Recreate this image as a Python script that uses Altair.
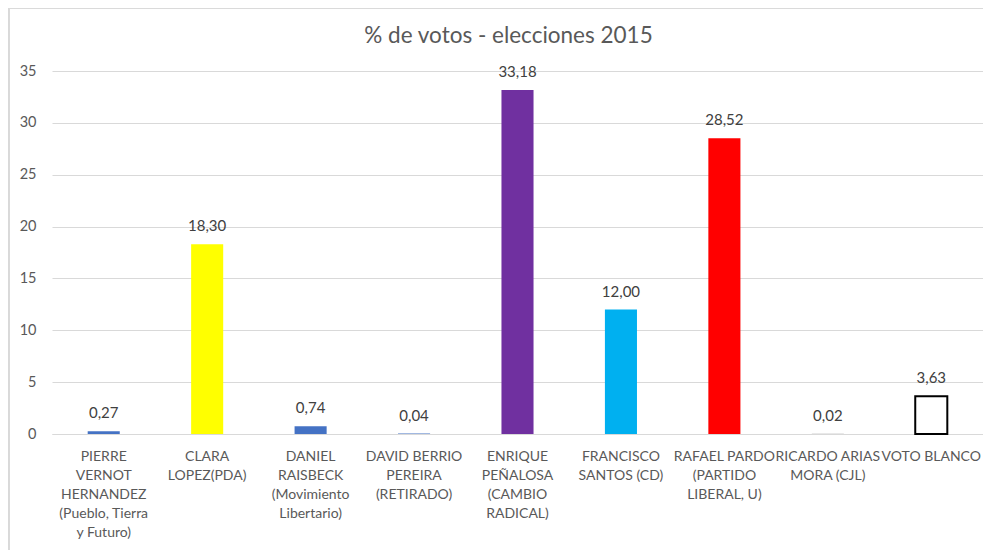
import altair as alt
import pandas as pd

titulo = "% de votos - elecciones 2015"
candidatos = [
    "PIERRE|VERNOT|HERNANDEZ|(Pueblo, Tierra|y Futuro)",
    "CLARA|LOPEZ(PDA)",
    "DANIEL|RAISBECK|(Movimiento|Libertario)",
    "DAVID BERRIO|PEREIRA|(RETIRADO)",
    "ENRIQUE|PEÑALOSA|(CAMBIO|RADICAL)",
    "FRANCISCO|SANTOS (CD)",
    "RAFAEL PARDO|(PARTIDO|LIBERAL, U)",
    "RICARDO ARIAS|MORA (CJL)",
    "VOTO BLANCO",
]
votos = [0.27, 18.30, 0.74, 0.04, 33.18, 12.00, 28.52, 0.02, 3.63]
relleno = ["#4472C4", "#FFFF00", "#4472C4", "#4472C4", "#7030A0",
           "#00B0F0", "#FF0000", "#A5A5A5", "#FFFFFF"]
borde = ["#4472C4", "#FFFF00", "#4472C4", "#4472C4", "#7030A0",
         "#00B0F0", "#FF0000", "#A5A5A5", "#000000"]
grosor = [0, 0, 0, 0, 0, 0, 0, 0, 2]

df = pd.DataFrame({"cand": candidatos, "pct": votos, "fill": relleno,
                   "stroke": borde, "sw": grosor})

FONT = "Lato"
W, H = 931, 363

x = alt.X("cand:N", sort=candidatos,
          scale=alt.Scale(paddingInner=0.69, paddingOuter=0.345),
          axis=alt.Axis(title=None, labelAngle=0, labelExpr="split(datum.label, '|')",
                        labelLineHeight=19, labelPadding=15, labelLimit=200,
                        labelFont=FONT, labelFontSize=14, labelColor="#595959",
                        ticks=False, domainColor="#D9D9D9", labelBaseline="top"))
y = alt.Y("pct:Q", scale=alt.Scale(domain=[0, 35], nice=False),
          axis=alt.Axis(title=None, values=[0, 5, 10, 15, 20, 25, 30, 35],
                        labelFont=FONT, labelFontSize=14.5, labelColor="#595959",
                        labelPadding=16, ticks=False, domain=False,
                        gridColor="#D9D9D9", gridWidth=1))

bars = alt.Chart(df).mark_bar().encode(
    x=x, y=y,
    fill=alt.Fill("fill:N", scale=None),
    stroke=alt.Stroke("stroke:N", scale=None),
    strokeWidth=alt.StrokeWidth("sw:Q", scale=None),
)

labels = alt.Chart(df).transform_calculate(
    lab="replace(format(datum.pct, '.2f'), '.', ',')"
).mark_text(font=FONT, fontSize=15, color="#404040", baseline="alphabetic", dy=-13).encode(
    x=alt.X("cand:N", sort=candidatos), y="pct:Q", text="lab:N")

title = alt.Chart(pd.DataFrame({"t": [titulo]})).mark_text(
    font=FONT, fontSize=22.5, color="#595959", baseline="middle", align="center"
).encode(x=alt.value(W / 2 - 9), y=alt.value(-35), text="t:N")

frame_left = alt.Chart(df).mark_rule(color="#D9D9D9", strokeWidth=1).encode(
    x=alt.value(-43), y=alt.value(-63), y2=alt.value(H + 130))
frame_top = alt.Chart(df).mark_rule(color="#D9D9D9", strokeWidth=1).encode(
    x=alt.value(-43), x2=alt.value(W + 60), y=alt.value(-63))

chart = alt.layer(bars, labels, title, frame_left, frame_top).properties(
    width=W, height=H,
    autosize=alt.AutoSizeParams(type="none"),
    padding={"left": 44, "top": 63, "right": 0, "bottom": 120},
).configure_view(stroke=None)

chart.save("out.html", embed_options={"renderer": "svg", "actions": False})
